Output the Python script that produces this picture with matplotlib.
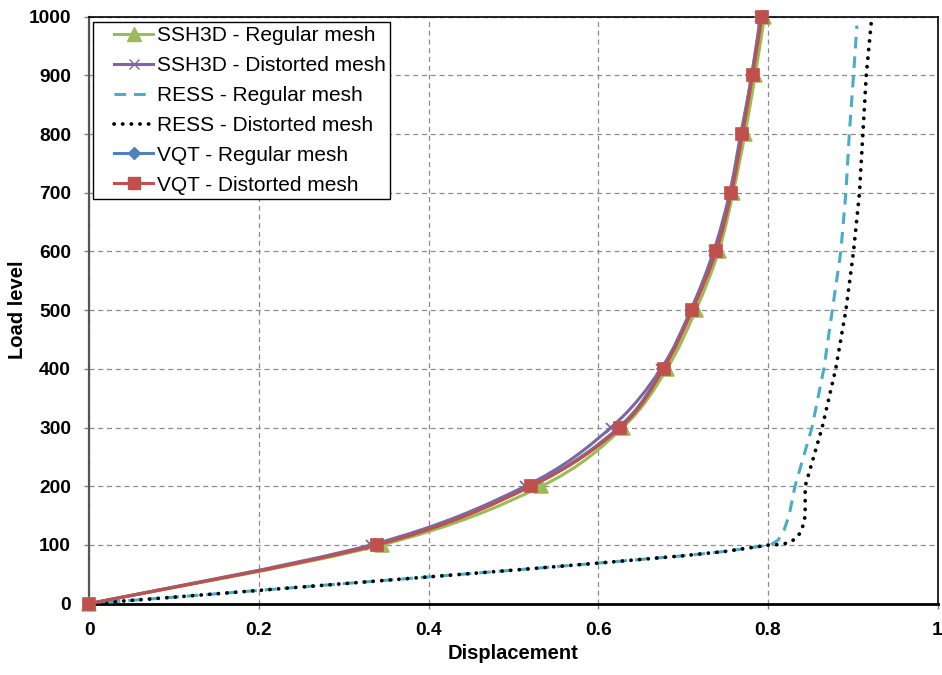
import numpy as np
import matplotlib
matplotlib.use("Agg")
import matplotlib.pyplot as plt
from matplotlib.path import Path
from matplotlib.patches import PathPatch
from matplotlib.lines import Line2D
from matplotlib.legend_handler import HandlerLine2D

plt.rcParams['font.family'] = ['Liberation Sans', 'DejaVu Sans']

# ---------------- data ----------------
load_levels = [0, 100, 200, 300, 400, 500, 600, 700, 800, 900, 1000]

ssh3d_regular_x = [0, 0.345, 0.533, 0.629, 0.681, 0.715, 0.742, 0.759, 0.773, 0.785, 0.796]
ssh3d_distorted_x = [0, 0.332, 0.514, 0.615, 0.674, 0.709, 0.736, 0.755, 0.768, 0.781, 0.791]
vqt_regular_x = [0, 0.337, 0.519, 0.624, 0.676, 0.710, 0.738, 0.756, 0.769, 0.781, 0.792]
vqt_distorted_x = [0, 0.339, 0.521, 0.626, 0.677, 0.711, 0.739, 0.757, 0.770, 0.782, 0.793]

ress_regular_x = [0, 0.1, 0.2, 0.3, 0.4, 0.5, 0.6, 0.7, 0.75, 0.803, 0.812, 0.819,
                  0.825, 0.832, 0.852, 0.866, 0.876, 0.886, 0.892, 0.896, 0.901, 0.905]
ress_regular_y = [0, 11, 22.5, 34, 45.5, 57, 69, 81.5, 89, 100, 108, 125,
                  150, 200, 300, 400, 500, 600, 700, 800, 900, 985]

ress_distorted_x = [0, 0.1, 0.2, 0.3, 0.4, 0.5, 0.6, 0.7, 0.75, 0.802, 0.813, 0.823,
                    0.831, 0.838, 0.842, 0.844, 0.844, 0.864, 0.880, 0.892, 0.901,
                    0.908, 0.912, 0.916, 0.922]
ress_distorted_y = [0, 11, 22.5, 34, 45.5, 57, 69, 81.5, 89, 100, 100.5, 103,
                    109, 120, 135, 150, 200, 300, 400, 500, 600,
                    700, 800, 900, 992]

x_ticks = [0, 0.2, 0.4, 0.6, 0.8, 1.0]
x_tick_labels = ['0', '0.2', '0.4', '0.6', '0.8', '1']
y_ticks = [0, 100, 200, 300, 400, 500, 600, 700, 800, 900, 1000]

labels = ['SSH3D - Regular mesh', 'SSH3D - Distorted mesh', 'RESS - Regular mesh',
          'RESS - Distorted mesh', 'VQT - Regular mesh', 'VQT - Distorted mesh']

# ---------------- styles ----------------
GREEN = '#9BBB59'
PURPLE = '#8064A2'
TEAL = '#4BACC6'
BLUE = '#4F81BD'
RED = '#C0504D'
LW = 2.2


def smooth_path(x, y):
    """Excel-like smoothed line: Catmull-Rom converted to cubic Bezier segments."""
    pts = np.column_stack([x, y]).astype(float)
    n = len(pts)
    verts = [pts[0]]
    codes = [Path.MOVETO]
    for i in range(n - 1):
        p0 = pts[i - 1] if i > 0 else pts[i]
        p1 = pts[i]
        p2 = pts[i + 1]
        p3 = pts[i + 2] if i + 2 < n else pts[i + 1]
        verts += [p1 + (p2 - p0) / 6.0, p2 - (p3 - p1) / 6.0, p2]
        codes += [Path.CURVE4] * 3
    return Path(verts, codes)


fig = plt.figure(figsize=(9.42, 6.75), dpi=100)
ax = fig.add_axes([89.3 / 942, 1 - 603.6 / 675, (937.5 - 89.3) / 942, (603.6 - 16.7) / 675])

ax.set_xlim(0, 1)
ax.set_ylim(0, 1000)

# grid
ax.set_axisbelow(True)
ax.grid(True, color='#8c8c8c', linestyle=(0, (4, 3)), linewidth=0.9)

handles = []


def smooth_series(xv, color, marker, ms, z):
    ax.add_patch(PathPatch(smooth_path(xv, load_levels), fill=False, edgecolor=color,
                           lw=LW, capstyle='round', joinstyle='round', zorder=z))
    ax.plot(xv, load_levels, linestyle='none', marker=marker, markersize=ms,
            color=color, markeredgecolor=color, markeredgewidth=1.2 if marker != 'x' else 1.3,
            clip_on=False, zorder=z + 0.1)
    return Line2D([], [], color=color, lw=LW, marker=marker, markersize=ms,
                  markeredgecolor=color)


handles.append(smooth_series(ssh3d_regular_x, GREEN, '^', 9.5, 3))
handles.append(smooth_series(ssh3d_distorted_x, PURPLE, 'x', 6.5, 3.2))

l_teal, = ax.plot(ress_regular_x, ress_regular_y, color=TEAL, lw=LW,
                  linestyle=(0, (3.8, 2.6)), dash_capstyle='butt', zorder=3.4)
handles.append(l_teal)
l_black, = ax.plot(ress_distorted_x, ress_distorted_y, color='black', lw=2.7,
                   linestyle=(0, (0.05, 2.25)), dash_capstyle='round', zorder=3.5)
handles.append(l_black)

handles.append(smooth_series(vqt_regular_x, BLUE, 'D', 6.5, 3.6))
handles.append(smooth_series(vqt_distorted_x, RED, 's', 9, 3.8))

# ticks / spines
ax.set_xticks(x_ticks)
ax.set_xticklabels(x_tick_labels)
ax.set_yticks(y_ticks)
for lab in ax.get_xticklabels() + ax.get_yticklabels():
    lab.set_fontweight('bold')
    lab.set_fontsize(13.8)
ax.tick_params(axis='both', direction='out', length=3.6, width=1, color='#7f7f7f', pad=9.5)

for side in ['left', 'top', 'right']:
    ax.spines[side].set_color('black')
    ax.spines[side].set_linewidth(1.2)
ax.spines['bottom'].set_color('black')
ax.spines['bottom'].set_linewidth(2.0)
ax.spines['left'].set_color('#555555')
ax.spines['left'].set_linewidth(1.6)

ax.set_xlabel('Displacement', fontsize=14.5, fontweight='bold', labelpad=4)
ax.set_ylabel('Load level', fontsize=14.5, fontweight='bold', labelpad=1)

FS_LEG = 15
leg = ax.legend(handles, labels, loc='upper left', bbox_to_anchor=(0.004, 0.9905),
                borderaxespad=0, fontsize=FS_LEG, numpoints=1,
                handlelength=2.7, handletextpad=0.2, borderpad=0.2, labelspacing=0.52,
                fancybox=False, framealpha=1, edgecolor='black',
                handler_map={Line2D: HandlerLine2D(xpad=0.82, numpoints=1)})
leg.get_frame().set_linewidth(1.0)
leg.set_zorder(10)

fig.savefig('out.png', dpi=100)
